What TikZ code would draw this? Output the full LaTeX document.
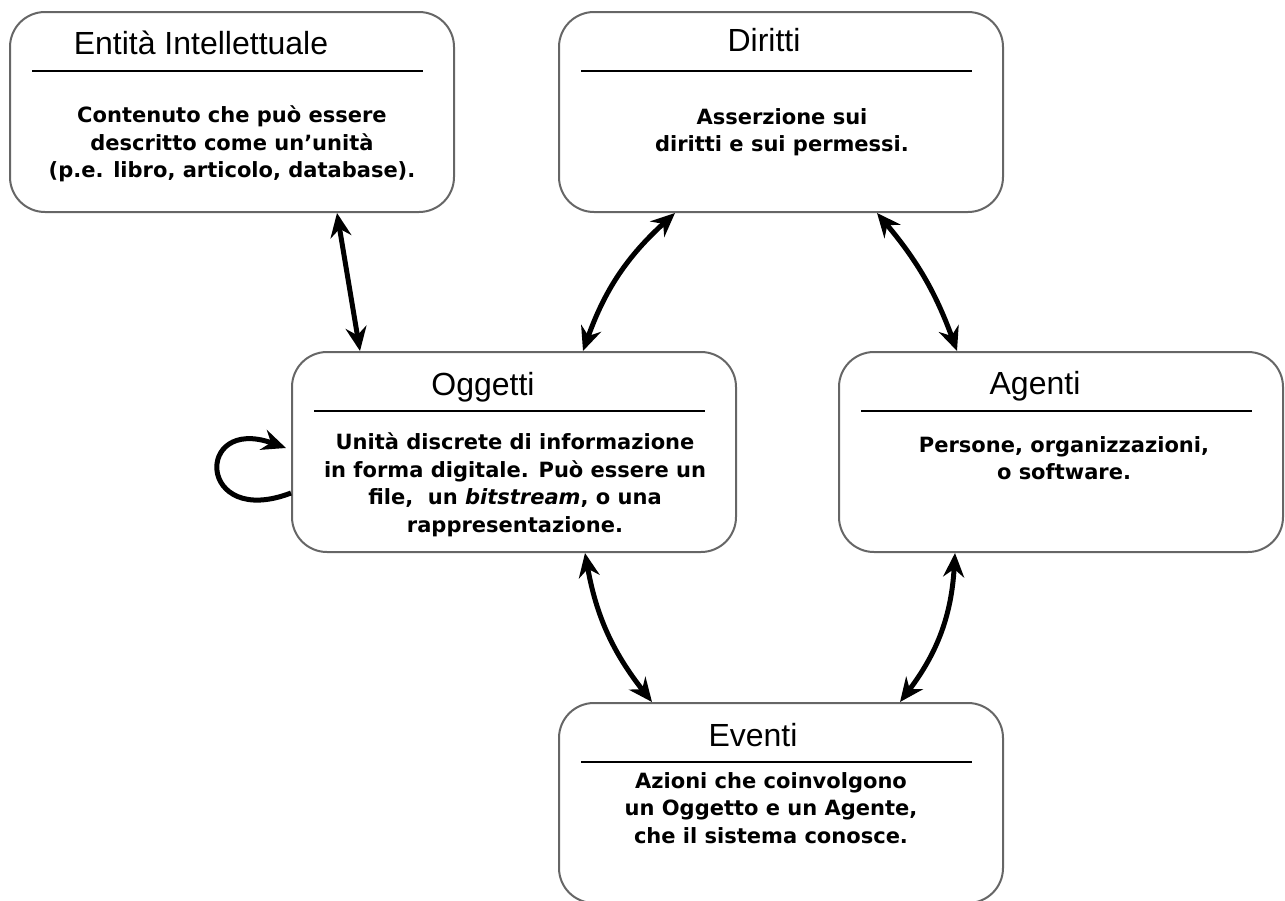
\documentclass[tikz,border=0pt]{standalone}
\usepackage{fontspec}
\newfontfamily\titlefont{Liberation Sans}
\newfontfamily\bodyfont{DejaVu Sans}
\usetikzlibrary{arrows.meta}
\tikzset{
>={Stealth[length=24pt,width=21pt,inset=8pt]},
  entitybox/.style={
    rectangle,
    rounded corners=35pt,
    draw=black!60, line width=2pt,
    minimum width=444pt,
    minimum height=200pt,
    inner sep=0pt},
  boxtitle/.style={
    anchor=base, inner sep=0pt,
    font=\titlefont\fontsize{32pt}{38pt}\selectfont},
  boxbody/.style={
    align=center, inner sep=0pt,
    font=\bodyfont\bfseries\fontsize{21pt}{27.5pt}\selectfont},
  divider/.style={draw=black, line width=1.4pt},
  relation/.style={draw, <->, line width=5pt},
  selfloop/.style={draw, ->, line width=5pt}
}

\begin{document}
\begin{tikzpicture}[x=1pt,y=1pt]
  \useasboundingbox (0,0) rectangle (1285,-900);

  \node[entitybox] (Entita)  at (232,-112)  {};
  \node[entitybox] (Diritti) at (781,-112)  {};
  \node[entitybox] (Oggetti) at (514,-452)  {};
  \node[entitybox] (Agenti)  at (1061,-452) {};
  \node[entitybox] (Eventi)  at (781,-803)  {};

  \node[boxtitle] (EntitaTitle)  at ([xshift=-31pt,yshift=-43pt]Entita.north)  {Entità Intellettuale};
  \node[boxtitle] (DirittiTitle) at ([xshift=-17pt,yshift=-40pt]Diritti.north) {Diritti};
  \node[boxtitle] (OggettiTitle) at ([xshift=-31pt,yshift=-44pt]Oggetti.north) {Oggetti};
  \node[boxtitle] (AgentiTitle)  at ([xshift=-26pt,yshift=-43pt]Agenti.north)  {Agenti};
  \node[boxtitle] (EventiTitle)  at ([xshift=-28pt,yshift=-44pt]Eventi.north)  {Eventi};

  \foreach \entity in {Entita,Diritti,Oggetti,Agenti,Eventi}
    \draw[divider] ([xshift=23pt,yshift=-60pt]\entity.north west) -- ([xshift=-32pt,yshift=-60pt]\entity.north east);

  \node[boxbody] (EntitaText)  at ([yshift=-133pt]Entita.north)
    {Contenuto che può essere\\descritto come un’unità\\(p.e. libro, articolo, database).};
  \node[boxbody] (DirittiText) at ([xshift=1pt,yshift=-121pt]Diritti.north)
    {Asserzione sui\\diritti e sui permessi.};
  \node[boxbody] (OggettiText) at ([xshift=1pt,yshift=-134pt]Oggetti.north)
    {Unità discrete di informazione\\in forma digitale. Può essere un\\file,~ un \textit{bitstream}, o una\\rappresentazione.};
  \node[boxbody] (AgentiText)  at ([xshift=3pt,yshift=-107pt]Agenti.north)
    {Persone, organizzazioni,\\o software.};
  \node[boxbody] (EventiText)  at ([xshift=-10pt,yshift=-106pt]Eventi.north)
    {Azioni che coinvolgono\\un Oggetto e un Agente,\\che il sistema conosce.};

  \draw[relation] ([xshift=105pt]Entita.south) -- ([xshift=-154pt]Oggetti.north);
  \draw[relation] ([xshift=-106pt]Diritti.south) to[bend right=14] ([xshift=69pt]Oggetti.north);
  \draw[relation] ([xshift=96pt]Diritti.south) to[bend left=10] ([xshift=-104pt]Agenti.north);
  \draw[relation] ([xshift=71pt]Oggetti.south) to[bend right=14] ([xshift=-129pt]Eventi.north);
  \draw[relation] ([xshift=-106pt]Agenti.south) to[bend left=17] ([xshift=119pt]Eventi.north);
  \draw[selfloop] ([yshift=-41pt]Oggetti.west) .. controls +(-94pt,-36pt) and +(-92pt,33pt) .. ([xshift=-5pt,yshift=4pt]Oggetti.west);
\end{tikzpicture}
\end{document}
